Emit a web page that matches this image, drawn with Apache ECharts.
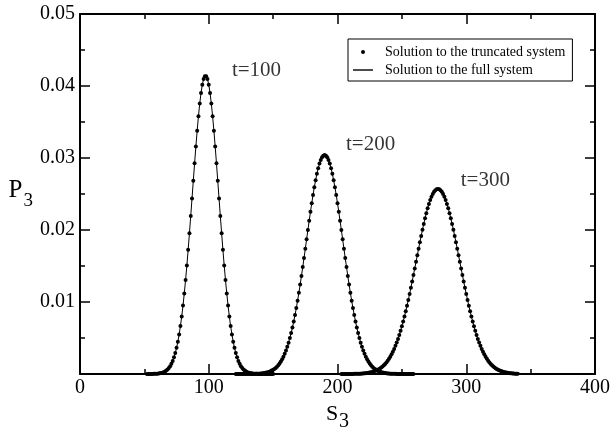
<!DOCTYPE html>
<html style="height: 100%">
<head>
  <meta charset="utf-8">
</head>
<body style="height: 100%; margin: 0; background: #fff">
  <div id="container" style="width: 613px; height: 428px"></div>
  <script src="https://cdn.jsdelivr.net/npm/echarts@6/dist/echarts.min.js"></script>
  <script>
    // P3, one value per integer S3
    var t100Start = 52;
    var t100 = [0, 0, 0, 0, 0.00001, 0.00002, 0.00002, 0.00003, 0.00005, 0.00007, 0.00010, 0.00014, 0.00019, 0.00026, 0.00035, 0.00047, 0.00063, 0.00083, 0.00109, 0.00142, 0.00182, 0.00231, 0.00291, 0.00363, 0.00449, 0.00549, 0.00666, 0.00799, 0.00950, 0.01119, 0.01305, 0.01507, 0.01724, 0.01954, 0.02193, 0.02437, 0.02683, 0.02926, 0.03159, 0.03379, 0.03580, 0.03756, 0.03903, 0.04018, 0.04096, 0.04135,
      0.04135, 0.04096, 0.04018, 0.03903, 0.03756, 0.03580, 0.03379, 0.03159, 0.02926, 0.02683, 0.02437, 0.02193, 0.01954, 0.01724, 0.01507, 0.01305, 0.01119, 0.00950, 0.00799, 0.00666, 0.00549, 0.00449, 0.00363, 0.00291, 0.00231, 0.00182, 0.00142, 0.00109, 0.00083, 0.00063, 0.00047, 0.00035, 0.00026, 0.00019, 0.00014, 0.00010, 0.00007, 0.00005, 0.00003, 0.00002, 0.00002, 0.00001, 0, 0, 0, 0, 0, 0, 0, 0, 0, 0, 0];

    var t200Start = 121;
    var t200 = [0, 0, 0, 0, 0, 0, 0, 0, 0, 0, 0, 0, 0.00001, 0.00001, 0.00002, 0.00002, 0.00003, 0.00004, 0.00005, 0.00006, 0.00008, 0.00010, 0.00013, 0.00016, 0.00020, 0.00025, 0.00031, 0.00038, 0.00047, 0.00058, 0.00070, 0.00085, 0.00102, 0.00122, 0.00146, 0.00173, 0.00204, 0.00240, 0.00280, 0.00326, 0.00378, 0.00435, 0.00499, 0.00569, 0.00645, 0.00729, 0.00819, 0.00915, 0.01018, 0.01128, 0.01242, 0.01361, 0.01485, 0.01611, 0.01740, 0.01870, 0.01999, 0.02127, 0.02252, 0.02372, 0.02487, 0.02594, 0.02692, 0.02780, 0.02857, 0.02922, 0.02973, 0.03010, 0.03032,
      0.03040,
      0.03032, 0.03010, 0.02973, 0.02922, 0.02857, 0.02780, 0.02692, 0.02594, 0.02487, 0.02372, 0.02252, 0.02127, 0.01999, 0.01870, 0.01740, 0.01611, 0.01485, 0.01361, 0.01242, 0.01128, 0.01018, 0.00915, 0.00819, 0.00729, 0.00645, 0.00569, 0.00499, 0.00435, 0.00378, 0.00326, 0.00280, 0.00240, 0.00204, 0.00173, 0.00146, 0.00122, 0.00102, 0.00085, 0.00070, 0.00058, 0.00047, 0.00038, 0.00031, 0.00025, 0.00020, 0.00016, 0.00013, 0.00010, 0.00008, 0.00006, 0.00005, 0.00004, 0.00003, 0.00002, 0.00002, 0.00001, 0.00001, 0, 0, 0, 0, 0, 0, 0, 0, 0, 0, 0, 0];

    var t300Start = 203;
    var t300 = [0, 0, 0, 0, 0, 0, 0, 0, 0.00001, 0.00001, 0.00002, 0.00002, 0.00003, 0.00003, 0.00004, 0.00005, 0.00006, 0.00008, 0.00009, 0.00011, 0.00014, 0.00017, 0.00020, 0.00024, 0.00029, 0.00034, 0.00040, 0.00048, 0.00056, 0.00066, 0.00077, 0.00090, 0.00105, 0.00121, 0.00140, 0.00161, 0.00185, 0.00211, 0.00241, 0.00273, 0.00309, 0.00348, 0.00391, 0.00437, 0.00487, 0.00542, 0.00600, 0.00662, 0.00728, 0.00798, 0.00872, 0.00949, 0.01029, 0.01112, 0.01198, 0.01286, 0.01376, 0.01467, 0.01559, 0.01650, 0.01741, 0.01831, 0.01918, 0.02003, 0.02085, 0.02162, 0.02234, 0.02301, 0.02361, 0.02415, 0.02461, 0.02500, 0.02530, 0.02552, 0.02566,
      0.02570,
      0.02566, 0.02552, 0.02530, 0.02500, 0.02461, 0.02415, 0.02361, 0.02301, 0.02234, 0.02162, 0.02085, 0.02003, 0.01918, 0.01831, 0.01741, 0.01650, 0.01559, 0.01467, 0.01376, 0.01286, 0.01198, 0.01112, 0.01029, 0.00949, 0.00872, 0.00798, 0.00728, 0.00662, 0.00600, 0.00542, 0.00487, 0.00437, 0.00391, 0.00348, 0.00309, 0.00273, 0.00241, 0.00211, 0.00185, 0.00161, 0.00140, 0.00121, 0.00105, 0.00090, 0.00077, 0.00066, 0.00056, 0.00048, 0.00040, 0.00034, 0.00029, 0.00024, 0.00020, 0.00017, 0.00014, 0.00011, 0.00009, 0.00008, 0.00006, 0.00005, 0.00004, 0.00003];

    // the full-system curve lies on the dots and runs along zero elsewhere
    var fullSpan = [0, 400];

    var curveLabels = ['t=100', 't=200', 't=300'];
    var labelS = [118, 206.6, 295.7];
    var labelP = [0.0421, 0.0319, 0.0269];

    var xTicks = [0, 100, 200, 300, 400];
    var yTicks = [0.01, 0.02, 0.03, 0.04, 0.05];

    var truncName = 'Solution to the truncated system';
    var fullName = 'Solution to the full system';
    var serif = 'Liberation Serif';

    function points(start, vals) {
      return vals.map(function (v, i) { return [start + i, v]; });
    }

    var peaks = [points(t100Start, t100), points(t200Start, t200), points(t300Start, t300)];

    var series = [];
    peaks.forEach(function (pts) {
      series.push({
        name: fullName,
        type: 'line',
        data: [[fullSpan[0], 0]].concat(pts, [[fullSpan[1], 0]]),
        showSymbol: false,
        symbol: 'none',
        lineStyle: { color: '#000', width: 1 },
        itemStyle: { color: '#000' },
        animation: false,
        z: 3
      });
    });
    peaks.forEach(function (pts) {
      series.push({
        name: truncName,
        type: 'scatter',
        data: pts,
        symbol: 'circle',
        symbolSize: 4,
        itemStyle: { color: '#000', opacity: 1 },
        animation: false,
        z: 4
      });
    });
    series.push({
      name: 'labels',
      type: 'scatter',
      symbolSize: 0,
      data: curveLabels.map(function (t, i) { return { name: t, value: [labelS[i], labelP[i]] }; }),
      label: {
        show: true,
        position: 'right',
        distance: 0,
        formatter: '{b}',
        color: '#000',
        fontFamily: serif,
        fontSize: 21
      },
      silent: true,
      animation: false
    });

    var axisCommon = {
      type: 'value',
      axisLine: { show: true, onZero: false, lineStyle: { color: '#000', width: 2 } },
      axisTick: { show: true, inside: true, length: 10, lineStyle: { color: '#000', width: 1.5 } },
      minorTick: { show: true, splitNumber: 2, length: 5, lineStyle: { color: '#000', width: 1.5 } },
      splitLine: { show: false }
    };

    var option = {
      backgroundColor: '#fff',
      animation: false,
      grid: { left: 80, right: 18, top: 14, bottom: 54, containLabel: false, outerBoundsMode: 'none' },
      legend: {
        data: [{ name: truncName, icon: 'circle' }, { name: fullName, icon: 'path://M0,0L20,0L20,1.4L0,1.4Z' }],
        orient: 'vertical',
        left: 348,
        top: 39,
        width: 227,
        padding: [6, 7, 4, 5],
        itemGap: 4,
        itemWidth: 20,
        itemHeight: 4,
        borderColor: '#000',
        borderWidth: 1,
        borderRadius: 0,
        backgroundColor: '#fff',
        selectedMode: false,
        textStyle: { fontFamily: serif, fontSize: 14, color: '#000', padding: [0, 0, 0, 7] }
      },
      xAxis: [
        Object.assign({}, axisCommon, {
          position: 'bottom',
          min: xTicks[0],
          max: xTicks[xTicks.length - 1],
          interval: xTicks[1] - xTicks[0],
          name: '{m|S}{s|3}',
          nameLocation: 'middle',
          nameGap: 7,
          nameTextStyle: {
            rich: {
              m: { fontFamily: serif, fontSize: 22, color: '#000', verticalAlign: 'top' },
              s: { fontFamily: serif, fontSize: 20, color: '#000', verticalAlign: 'top', padding: [9, 0, 0, 1] }
            }
          },
          axisLabel: { show: true, margin: 4, color: '#000', fontFamily: serif, fontSize: 20 }
        }),
        Object.assign({}, axisCommon, {
          position: 'top',
          min: xTicks[0],
          max: xTicks[xTicks.length - 1],
          interval: xTicks[1] - xTicks[0],
          axisLabel: { show: false }
        })
      ],
      yAxis: [
        Object.assign({}, axisCommon, {
          position: 'left',
          min: 0,
          max: yTicks[yTicks.length - 1],
          interval: yTicks[0],
          name: '{m|P}{s|3}',
          nameLocation: 'middle',
          nameRotate: 0,
          nameGap: 47,
          nameTextStyle: {
            rich: {
              m: { fontFamily: serif, fontSize: 25, color: '#000', verticalAlign: 'top' },
              s: { fontFamily: serif, fontSize: 19, color: '#000', verticalAlign: 'top', padding: [14, 0, 0, 1] }
            }
          },
          axisLabel: {
            show: true,
            margin: 5,
            color: '#000',
            fontFamily: serif,
            fontSize: 20,
            formatter: function (v) { return v === 0 ? '' : v.toFixed(2); }
          }
        }),
        Object.assign({}, axisCommon, {
          position: 'right',
          min: 0,
          max: yTicks[yTicks.length - 1],
          interval: yTicks[0],
          axisLabel: { show: false }
        })
      ],
      series: series
    };

    var chart = echarts.init(document.getElementById('container'), null, { renderer: 'canvas' });
    chart.setOption(option);
  </script>
</body>
</html>
